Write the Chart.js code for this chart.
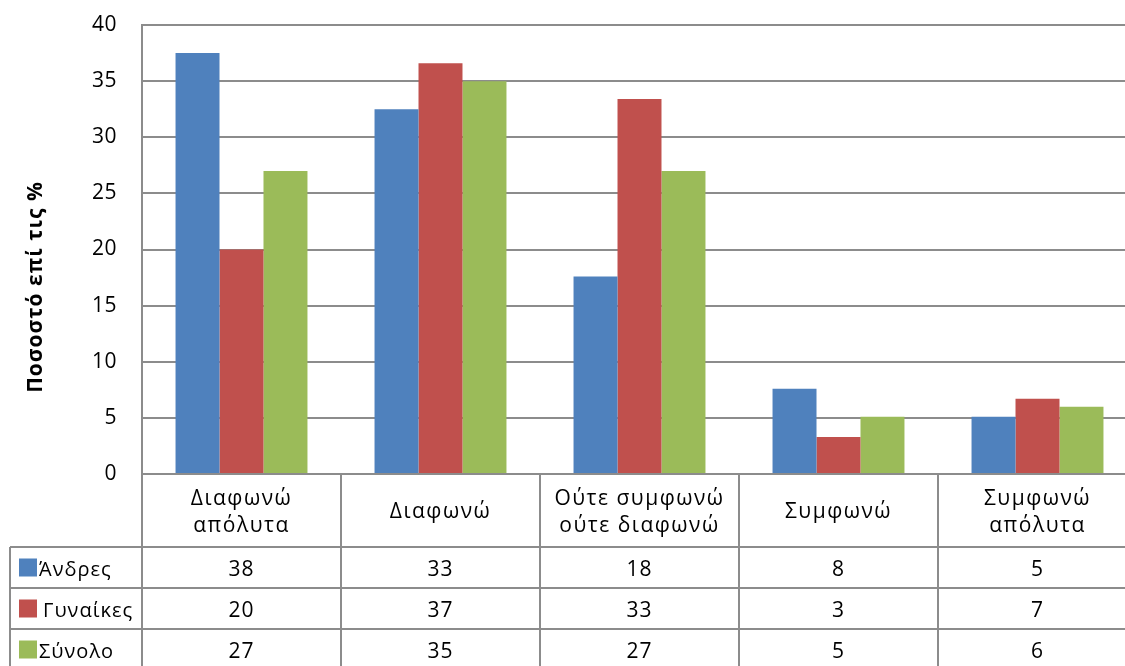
<!DOCTYPE html>
<html>
<head>
<meta charset="utf-8">
<script src="https://cdn.jsdelivr.net/npm/chart.js@4.4.0/dist/chart.umd.min.js"></script>
<style>
  html, body { margin: 0; padding: 0; background: #fff; overflow: hidden; }
  #wrap { width: 1140px; height: 666px; }
</style>
</head>
<body>
<div id="wrap"><canvas id="chart"></canvas></div>
<script>
// Categories (multi-line labels for the data table header)
const categories = [
  ['Διαφωνώ', 'απόλυτα'],
  ['Διαφωνώ'],
  ['Ούτε συμφωνώ', 'ούτε διαφωνώ'],
  ['Συμφωνώ'],
  ['Συμφωνώ', 'απόλυτα']
];
const seriesNames = ['Άνδρες', 'Γυναίκες', 'Σύνολο'];
const seriesColors = ['#4F81BD', '#C0504D', '#9BBB59'];

// Values
const men = [37.5, 32.5, 17.6, 7.6, 5.1];
const women = [20.0, 36.6, 33.4, 3.3, 6.7];
const total = [27.0, 35.0, 27.0, 5.1, 6.0];

const yTicks = [0, 5, 10, 15, 20, 25, 30, 35, 40];
const yTitle = 'Ποσοστό επί τις %';

const FONT = "'Open Sans', 'Noto Sans', sans-serif";
const GRID = '#8c8c8c';

// slight letter spacing for the tick labels, like the Excel rendering
const spacingPlugin = {
  id: 'spacing',
  beforeDraw(chart) { chart.ctx.letterSpacing = '0.5px'; }
};

/**
 * Excel-style data table drawn under the plot area, plus axis title
 */
const dataTablePlugin = {
  id: 'dataTable',
  afterDraw(chart) {
    const ctx = chart.ctx;
    const area = chart.chartArea;
    const x = chart.scales.x;
    const n = categories.length;
    const catW = (area.right - area.left) / n;
    const top = area.bottom;
    const headerBottom = 547;
    const rowH = 41;
    const legendLeft = 10;
    const bottom = chart.height + 5;

    ctx.save();
    ctx.strokeStyle = GRID;
    ctx.lineWidth = 2;

    // vertical lines of the table
    ctx.beginPath();
    for (let i = 0; i <= n; i++) {
      const lx = Math.round(area.left + i * catW);
      ctx.moveTo(lx, top);
      ctx.lineTo(lx, bottom);
    }
    ctx.moveTo(legendLeft, headerBottom);
    ctx.lineTo(legendLeft, bottom);
    // horizontal lines
    for (let r = 0; r < seriesNames.length; r++) {
      const ly = headerBottom + r * rowH;
      ctx.moveTo(legendLeft, ly);
      ctx.lineTo(area.right, ly);
    }
    ctx.stroke();

    ctx.fillStyle = '#000';
    ctx.font = '21px ' + FONT;
    ctx.letterSpacing = '1.5px';
    ctx.textAlign = 'center';
    ctx.textBaseline = 'middle';

    // header: category names
    categories.forEach((lines, i) => {
      const cx = x.getPixelForValue(i);
      const cy = (top + headerBottom) / 2 + 2;
      const lh = 27;
      lines.forEach((txt, j) => {
        ctx.fillText(txt, cx, cy + (j - (lines.length - 1) / 2) * lh);
      });
    });

    // rows: legend key + rounded values
    chart.data.datasets.forEach((ds, r) => {
      const cy = headerBottom + r * rowH + rowH / 2 + 3;
      ctx.fillStyle = ds.backgroundColor;
      ctx.fillRect(19, cy - 12, 18, 18);
      ctx.fillStyle = '#000';
      ctx.textAlign = 'left';
      ctx.font = '20px ' + FONT;
      ctx.letterSpacing = '1px';
      ctx.fillText(ds.label, r === 1 ? 43 : 39, cy);
      ctx.textAlign = 'center';
      ctx.font = '21px ' + FONT;
      ctx.letterSpacing = '1px';
      ds.data.forEach((v, i) => {
        ctx.fillText(String(Math.round(v)), x.getPixelForValue(i), cy);
      });
    });

    // y axis title (Excel centres it lower than the plot area)
    ctx.translate(36, 287);
    ctx.rotate(-Math.PI / 2);
    ctx.font = 'bold 21px ' + FONT;
    ctx.letterSpacing = '1px';
    ctx.fillText(yTitle, 0, 0);
    ctx.restore();
  }
};

new Chart(document.getElementById('chart'), {
  type: 'bar',
  data: {
    labels: categories,
    datasets: [
      { label: seriesNames[0], data: men, backgroundColor: seriesColors[0] },
      { label: seriesNames[1], data: women, backgroundColor: seriesColors[1] },
      { label: seriesNames[2], data: total, backgroundColor: seriesColors[2] }
    ]
  },
  options: {
    responsive: true,
    maintainAspectRatio: false,
    animation: false,
    layout: { padding: { top: 25, right: 3, bottom: 192, left: 0 } },
    datasets: {
      bar: { barPercentage: 1.0, categoryPercentage: 0.663, borderWidth: 0 }
    },
    plugins: {
      legend: { display: false },
      tooltip: { enabled: false }
    },
    scales: {
      x: { display: false },
      y: {
        min: 0,
        max: 40,
        afterBuildTicks: (scale) => { scale.ticks = yTicks.map(v => ({ value: v })); },
        afterFit: (scale) => {
          scale.width = 142;
          scale.paddingTop = 0;
          scale.paddingBottom = 0;
        },
        border: { display: true, color: GRID, width: 2 },
        grid: { color: GRID, lineWidth: 2, drawTicks: false },
        ticks: {
          color: '#000',
          padding: 25,
          font: { family: FONT, size: 21 }
        }
      }
    }
  },
  plugins: [spacingPlugin, dataTablePlugin]
});
</script>
</body>
</html>
